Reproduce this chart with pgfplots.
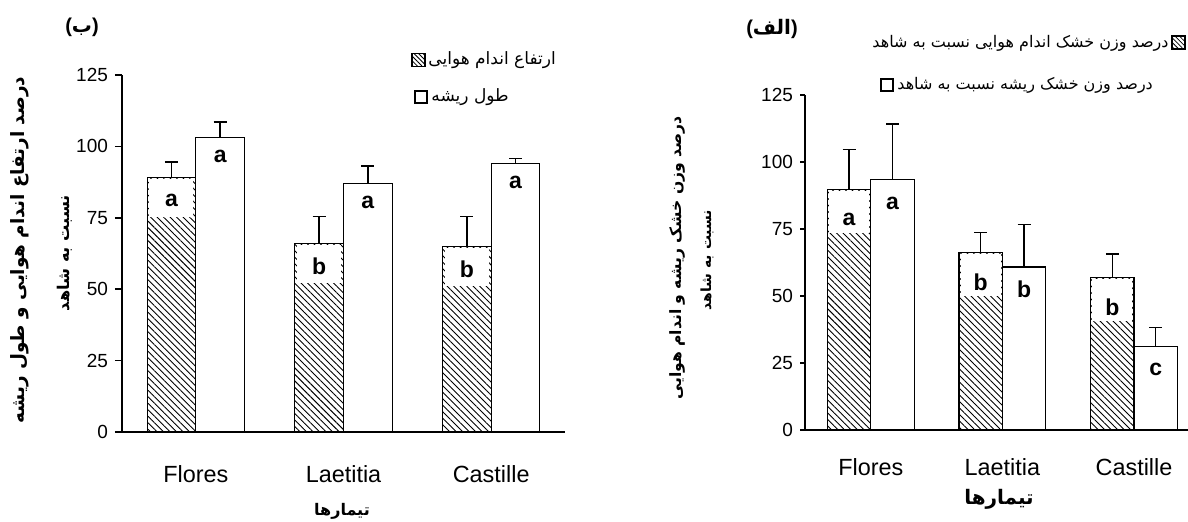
\documentclass[border=0pt]{standalone}
\usepackage{pgfplots}
\pgfplotsset{compat=1.18}
\usepackage{pgfplotstable}
\usepackage{fontspec}
\setmainfont{Liberation Sans}
\newfontfamily\fa[Script=Arabic]{DejaVu Sans}
\TeXXeTstate=1
\usetikzlibrary{patterns.meta}

% left chart (b): plant height and root length (% of control)
\pgfplotstableread{
x h he w we
0 89 5.5 103 5.5
1 66 9.5 87 6.2
2 65 10.5 94 1.7
}\leftdata
% right chart (alef): dry weight of shoot and root (% of control)
\pgfplotstableread{
x h he w we
0 89.6 15.1 93.5 20.7
1 66.3 7.3 60.8 15.9
2 57.0 8.7 31.1 7.2
}\rightdata

\begin{document}
\begin{tikzpicture}
\useasboundingbox (0,0) rectangle (594pt,261pt);
\pgfplotsset{
 mybar/.style={ybar, bar width=0.33, bar shift=0pt, draw=black, line width=0.6pt,
   error bars/y dir=plus, error bars/y explicit,
   error bars/error bar style={line width=0.7pt, black},
   error bars/error mark options={rotate=90, mark size=3.25pt, line width=0.7pt, black}},
 hatch/.style={pattern={Lines[angle=-45,distance=2.3pt,line width=0.45pt]}},
 common/.style={scale only axis, ymin=0, ymax=125, xmin=-0.5,
   axis x line*=bottom, axis y line*=left,
   xtick={0,1,2}, xticklabels={Flores,Laetitia,Castille},
   ytick={0,25,50,75,100,125}, tick align=outside,
   major x tick style={draw=none},
   axis line style={line width=0.75pt},
   major tick style={line width=0.75pt, black},
   /pgf/number format/assume math mode=true, clip=false,
   yticklabel style={font=\fontsize{9.5}{11}\selectfont},
   xticklabel style={font=\fontsize{11.7}{13}\selectfont, anchor=base}}
}
% ---------------- left chart
\begin{axis}[common, at={(61pt,45pt)}, anchor=south west,
  width=221.5pt, height=178.5pt, xmax=2.5, major tick length=3.5pt,
  xticklabel style={yshift=-22pt}]
\addplot[mybar, hatch] table[x expr=\thisrow{x}-0.165, y=h, y error=he]{\leftdata};
\addplot[mybar, fill=white] table[x expr=\thisrow{x}+0.165, y=w, y error=we]{\leftdata};
\foreach \xx/\yy/\ll in {0/89/a, 1/66/b, 2/65/b}{
  \edef\tmp{\noexpand\node[fill=white, minimum width=22pt, minimum height=19pt, inner sep=0pt, anchor=north, yshift=-0.5pt] at (axis cs:\xx-0.165,\yy) {};
  \noexpand\node[font=\noexpand\bfseries\noexpand\fontsize{11.5}{12}\noexpand\selectfont, yshift=-11.5pt] at (axis cs:\xx-0.165,\yy) {\ll};}\tmp}
\foreach \xx/\yy/\ll in {0/103/a, 1/87/a, 2/94/a}{
  \edef\tmp{\noexpand\node[font=\noexpand\bfseries\noexpand\fontsize{11.5}{12}\noexpand\selectfont, yshift=-9.5pt] at (axis cs:\xx+0.165,\yy) {\ll};}\tmp}
\end{axis}
% ---------------- right chart
\begin{axis}[common, at={(402.5pt,46pt)}, anchor=south west,
  width=191.5pt, height=167.5pt, xmax=2.41, major tick length=2.5pt,
  xticklabel style={yshift=-20.5pt}]
\addplot[mybar, hatch] table[x expr=\thisrow{x}-0.165, y=h, y error=he]{\rightdata};
\addplot[mybar, fill=white] table[x expr=\thisrow{x}+0.165, y=w, y error=we]{\rightdata};
\foreach \xx/\yy/\ll in {0/89.6/a, 1/66.3/b, 2/57.0/b}{
  \edef\tmp{\noexpand\node[fill=white, minimum width=20pt, minimum height=21pt, inner sep=0pt, anchor=north, yshift=-0.5pt] at (axis cs:\xx-0.165,\yy) {};
  \noexpand\node[font=\noexpand\bfseries\noexpand\fontsize{11.5}{12}\noexpand\selectfont, yshift=-15pt] at (axis cs:\xx-0.165,\yy) {\ll};}\tmp}
\foreach \xx/\yy/\ll/\dd in {0/93.5/a/12, 1/60.8/b/11, 2/31.1/c/11.5}{
  \edef\tmp{\noexpand\node[font=\noexpand\bfseries\noexpand\fontsize{11.5}{12}\noexpand\selectfont, yshift=-\dd pt] at (axis cs:\xx+0.165,\yy) {\ll};}\tmp}
\end{axis}
% ---------------- titles
\node[inner sep=0pt, font=\bfseries\fontsize{10}{12}\selectfont] at (41pt,247.5pt) {({\fa\beginR ب\endR})};
\node[inner sep=0pt, font=\bfseries\fontsize{10}{12}\selectfont] at (386pt,246.5pt) {({\fa\beginR الف\endR})};
% ---------------- left legend
\draw[line width=0.6pt, pattern={Lines[angle=-45,distance=1.6pt,line width=0.4pt]}] (206pt,227.75pt) rectangle (212.5pt,234.25pt);
\node[anchor=west, inner sep=0pt, font=\fa\fontsize{8.5}{9}\selectfont] at (214pt,231pt) {\beginR ارتفاع اندام هوایی\endR};
\draw[line width=0.6pt, fill=white] (207.5pt,209.5pt) rectangle (213.5pt,215.5pt);
\node[anchor=west, inner sep=0pt, font=\fa\fontsize{8.5}{9}\selectfont] at (215.5pt,212.5pt) {\beginR طول ریشه\endR};
% ---------------- right legend
\draw[line width=0.6pt, pattern={Lines[angle=-45,distance=1.6pt,line width=0.4pt]}] (586pt,236.5pt) rectangle (592.5pt,243pt);
\node[anchor=east, inner sep=0pt, font=\fa\fontsize{8}{9}\selectfont] at (584.5pt,239.5pt) {\beginR درصد وزن خشک اندام هوایی نسبت به شاهد\endR};
\draw[line width=0.6pt, fill=white] (440.5pt,215.5pt) rectangle (446.5pt,221.5pt);
\node[anchor=west, inner sep=0pt, font=\fa\fontsize{8}{9}\selectfont] at (448.5pt,218.5pt) {\beginR درصد وزن خشک ریشه نسبت به شاهد\endR};
% ---------------- y labels
\node[rotate=90, font=\fa\bfseries\fontsize{9.2}{11}\selectfont] at (10pt,136pt) {\beginR درصد ارتفاع اندام هوایی و طول ریشه\endR};
\node[rotate=90, font=\fa\bfseries\fontsize{8.1}{10}\selectfont] at (32.5pt,134.5pt) {\beginR نسبت به شاهد\endR};
\node[rotate=90, font=\fa\bfseries\fontsize{7.8}{10}\selectfont] at (338.5pt,132pt) {\beginR درصد وزن خشک ریشه و اندام هوایی\endR};
\node[rotate=90, font=\fa\bfseries\fontsize{7}{9}\selectfont] at (353.5pt,131pt) {\beginR نسبت به شاهد\endR};
% ---------------- x labels
\node[font=\fa\bfseries\fontsize{8}{9}\selectfont] at (171pt,5.5pt) {\beginR تیمارها\endR};
\node[font=\fa\bfseries\fontsize{10}{11}\selectfont] at (499.5pt,11.5pt) {\beginR تیمارها\endR};
\end{tikzpicture}
\end{document}
